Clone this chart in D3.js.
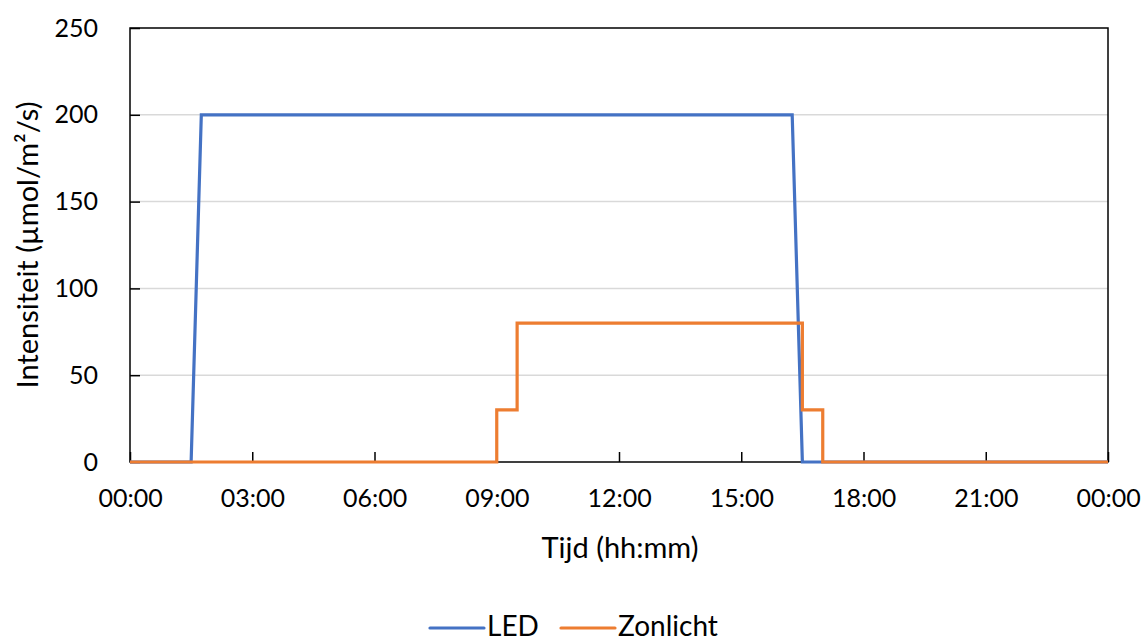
<!DOCTYPE html>
<html>
<head>
<meta charset="utf-8">
<script src="https://cdn.jsdelivr.net/npm/d3@7"></script>
<style>
  html, body { margin: 0; padding: 0; background: #fff; }
  svg { display: block; font-family: Lato, "Open Sans", sans-serif; }
</style>
</head>
<body>
<svg id="chart" width="1148" height="641"></svg>
<script>
// Time of day in hours, intensity in µmol/m²/s
const ledHours = [0, 1.5, 1.75, 16.25, 16.5, 24];
const ledValues = [0, 0, 200, 200, 0, 0];

const sunHours = [0, 9, 9, 9.5, 9.5, 16.5, 16.5, 17, 17, 24];
const sunValues = [0, 0, 30, 30, 80, 80, 30, 30, 0, 0];

const xTickHours = [0, 3, 6, 9, 12, 15, 18, 21, 24];
const xTickLabels = ["00:00", "03:00", "06:00", "09:00", "12:00", "15:00", "18:00", "21:00", "00:00"];
const yTicks = [0, 50, 100, 150, 200, 250];

const seriesNames = ["LED", "Zonlicht"];
const seriesColors = ["#4472C4", "#ED7D31"];

const svg = d3.select("#chart");
const plotLeft = 130, plotRight = 1108, plotTop = 28, plotBottom = 462;

const x = d3.scaleLinear().domain([0, 24]).range([plotLeft, plotRight]);
const y = d3.scaleLinear().domain([0, 250]).range([plotBottom, plotTop]);

// horizontal gridlines
svg.append("g")
  .selectAll("line")
  .data(yTicks.filter(d => d > 0 && d < 250))
  .join("line")
  .attr("x1", plotLeft).attr("x2", plotRight)
  .attr("y1", d => y(d)).attr("y2", d => y(d))
  .attr("stroke", "#D9D9D9").attr("stroke-width", 1.5);

// y axis with inner ticks
const yAxis = svg.append("g")
  .attr("transform", `translate(${plotLeft},0)`)
  .call(d3.axisLeft(y).tickValues(yTicks).tickSizeInner(-10).tickSizeOuter(0).tickPadding(32));
yAxis.select(".domain").remove();
yAxis.selectAll(".tick line").attr("stroke", "#000").attr("stroke-width", 1.5);
yAxis.selectAll(".tick text")
  .attr("font-size", 25).attr("fill", "#000")
  .attr("font-family", "Lato, sans-serif");

// x axis with inner ticks
const xAxis = svg.append("g")
  .attr("transform", `translate(0,${plotBottom})`)
  .call(d3.axisBottom(x).tickValues(xTickHours)
    .tickFormat((d, i) => xTickLabels[i])
    .tickSizeInner(-10).tickSizeOuter(0).tickPadding(27));
xAxis.select(".domain").remove();
xAxis.selectAll(".tick line").attr("stroke", "#000").attr("stroke-width", 1.5);
xAxis.selectAll(".tick text")
  .attr("font-size", 25).attr("fill", "#000")
  .attr("font-family", "Lato, sans-serif");

// plot area border
svg.append("rect")
  .attr("x", plotLeft).attr("y", plotTop)
  .attr("width", plotRight - plotLeft).attr("height", plotBottom - plotTop)
  .attr("fill", "none").attr("stroke", "#000").attr("stroke-width", 1.5);

// series lines
const line = d3.line().x(d => x(d[0])).y(d => y(d[1]));
const series = [
  d3.zip(ledHours, ledValues),
  d3.zip(sunHours, sunValues)
];
series.forEach((pts, i) => {
  svg.append("path")
    .datum(pts)
    .attr("d", line)
    .attr("fill", "none")
    .attr("stroke", seriesColors[i])
    .attr("stroke-width", 3.2)
    .attr("stroke-linejoin", "miter");
});

// axis titles
svg.append("text")
  .attr("x", 620).attr("y", 558)
  .attr("text-anchor", "middle")
  .attr("font-size", 29).attr("fill", "#000")
  .text("Tijd (hh:mm)");

svg.append("text")
  .attr("transform", `translate(38,245) rotate(-90)`)
  .attr("text-anchor", "middle")
  .attr("font-size", 29).attr("fill", "#000")
  .text("Intensiteit (µmol/m²/s)");

// legend
const legendX = [430, 561];
seriesNames.forEach((name, i) => {
  const g = svg.append("g").attr("transform", `translate(${legendX[i]},628)`);
  g.append("line")
    .attr("x1", 0).attr("x2", 54).attr("y1", 0).attr("y2", 0)
    .attr("stroke", seriesColors[i]).attr("stroke-width", 3.2)
    .attr("stroke-linecap", "round");
  g.append("text")
    .attr("x", 57).attr("y", 8)
    .attr("font-size", 28).attr("fill", "#000")
    .text(name);
});
</script>
</body>
</html>
